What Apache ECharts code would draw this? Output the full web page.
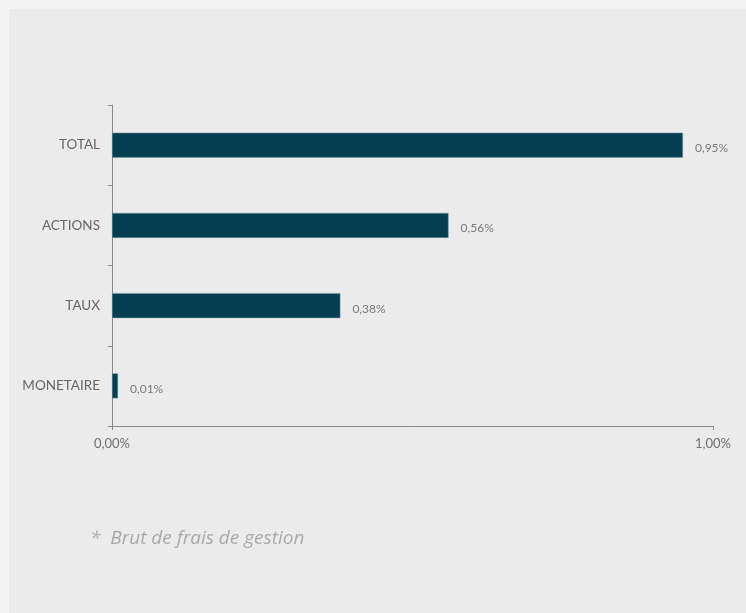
<!DOCTYPE html>
<html><head><meta charset="utf-8">
<script src="https://cdn.jsdelivr.net/npm/echarts@6/dist/echarts.min.js"></script>
<style>
html,body{margin:0;padding:0;background:#f4f4f4;}
#c{position:absolute;left:0;top:0;width:746px;height:613px;}
</style></head>
<body><div id="c"></div>
<script>
const categories = ['TOTAL', 'ACTIONS', 'TAUX', 'MONETAIRE'];
const values = [0.95, 0.56, 0.38, 0.01];
const footnote = '*  Brut de frais de gestion';
const fmt = v => v.toFixed(2).replace('.', ',') + '%';

const chart = echarts.init(document.getElementById('c'), null, {renderer: 'canvas'});
chart.setOption({
  backgroundColor: '#f4f4f4',
  animation: false,
  graphic: [
    {type: 'rect', shape: {x: 9, y: 9, width: 737, height: 604}, style: {fill: '#ebebeb'}, z: -10},
    {type: 'text', left: 90, top: 529, style: {text: footnote, fill: '#a9a9a9', font: 'italic 19px "Open Sans", sans-serif'}}
  ],
  grid: {left: 112, right: 33, top: 105, bottom: 187},
  xAxis: {
    type: 'value', min: 0, max: 1, interval: 1,
    axisLine: {show: true, lineStyle: {color: '#888', width: 1}},
    axisTick: {show: true, length: 4, lineStyle: {color: '#888'}},
    splitLine: {show: false},
    axisLabel: {formatter: fmt, color: '#707070', fontSize: 13, fontFamily: 'Lato, "Open Sans", sans-serif', margin: 11}
  },
  yAxis: {
    type: 'category', data: categories, inverse: true,
    axisLine: {show: true, lineStyle: {color: '#888', width: 1}},
    axisTick: {show: true, length: 4, lineStyle: {color: '#888'}},
    axisLabel: {color: '#666', fontSize: 13.5, fontFamily: 'Lato, "Open Sans", sans-serif', margin: 12}
  },
  series: [{
    type: 'bar', data: values, barWidth: 25,
    itemStyle: {color: '#063e51', borderColor: '#7aa0ad', borderWidth: 0.5},
    label: {show: true, position: 'right', distance: 12, offset: [0, 3], formatter: p => fmt(p.value), color: '#7a7a7a', fontSize: 12, fontFamily: 'Lato, "Open Sans", sans-serif'}
  }]
});
</script></body></html>
